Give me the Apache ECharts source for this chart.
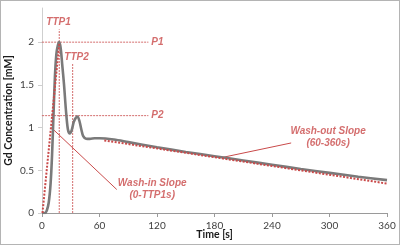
<!DOCTYPE html>
<html>
<head>
<meta charset="utf-8">
<script src="https://cdn.jsdelivr.net/npm/echarts@6/dist/echarts.min.js"></script>
<style>
  body { margin: 0; background: #fff; }
  #chart { width: 398px; height: 243px; border: 1px solid #b4b4b4; }
</style>
</head>
<body>
<div id="chart"></div>
<script>
// concentration curve
const timeS = [0, 3, 5, 7, 9, 10.5, 12, 13.5, 15, 16.5, 18, 19.5, 21, 23, 25, 27, 29, 31, 33, 35, 37, 39, 41, 43, 46, 50, 55, 60, 75, 90, 120, 150, 180, 210, 240, 270, 300, 330, 360];
const concMM = [0, 0, 0.03, 0.12, 0.35, 0.68, 1.15, 1.6, 1.86, 1.96, 2.0, 1.93, 1.75, 1.5, 1.2, 0.98, 0.93, 0.97, 1.06, 1.11, 1.13, 1.08, 0.98, 0.9, 0.87, 0.868, 0.875, 0.875, 0.86, 0.83, 0.77, 0.715, 0.665, 0.615, 0.565, 0.515, 0.47, 0.425, 0.385];

// fitted slopes
const washInT = [0.5, 18];
const washInV = [0, 1.98];
const washOutT = [65, 360];
const washOutV = [0.85, 0.345];

// peak guides
const ttp = [18, 32];
const ttpTop = [2.15, 1.75];
const peaks = [2.0, 1.14];
const peakGuideEnd = 111;

// leader lines [t0, v0, t1, v1]
const leaders = [
  [9.7, 1.0, 78, 0.275],
  [188, 0.65, 260, 0.82]
];

// annotation anchors [t, v, text]
const notes = [
  [17.3, 2.23, 'TTP1', 'center'],
  [36, 1.82, 'TTP2', 'center'],
  [114, 2.0, 'P1', 'left'],
  [114, 1.14, 'P2', 'left'],
  [115, 0.28, 'Wash-in Slope\n(0-TTP1s)', 'center'],
  [298.5, 0.886, 'Wash-out Slope\n(60-360s)', 'center']
];

const xTicks = [0, 60, 120, 180, 240, 300, 360];

const red = '#c94a4a';
const chart = echarts.init(document.getElementById('chart'));

const series = [];

series.push({
  type: 'line', data: [[-3, peaks[0]], [peakGuideEnd, peaks[0]]], symbol: 'none', clip: false,
  lineStyle: { color: red, width: 1, type: [2, 1], opacity: 0.8 }, silent: true
});
series.push({
  type: 'line', data: [[-3, peaks[1]], [peakGuideEnd, peaks[1]]], symbol: 'none', clip: false,
  lineStyle: { color: red, width: 1, type: [2, 1], opacity: 0.8 }, silent: true
});
ttp.forEach((t, i) => {
  series.push({
    type: 'line', data: [[t, 0], [t, ttpTop[i]]], symbol: 'none',
    lineStyle: { color: red, width: 1, type: [2, 1], opacity: 0.8 }, silent: true
  });
});
leaders.forEach(l => {
  series.push({
    type: 'line', data: [[l[0], l[1]], [l[2], l[3]]], symbol: 'none',
    lineStyle: { color: red, width: 1 }, silent: true
  });
});

series.push({
  name: 'curve', type: 'line', smooth: 0.3, symbol: 'none',
  data: timeS.map((t, i) => [t, concMM[i]]),
  lineStyle: { color: '#7a7a7a', width: 2.6 }, z: 3
});

series.push({
  type: 'line', symbol: 'none', data: washInT.map((t, i) => [t, washInV[i]]),
  lineStyle: { color: red, width: 2, type: [2, 1.5] }, z: 4
});
series.push({
  type: 'line', symbol: 'none', data: washOutT.map((t, i) => [t, washOutV[i]]),
  lineStyle: { color: red, width: 2, type: [2, 1.5] }, z: 4
});

series.push({
  type: 'scatter', symbolSize: 0, z: 5,
  data: notes.map(n => ({
    value: [n[0], n[1]],
    label: {
      show: true, position: 'inside', formatter: n[2], align: n[3],
      color: red, fontSize: 10, fontStyle: 'italic', fontWeight: 'bold',
      fontFamily: 'Liberation Sans', lineHeight: 12
    }
  }))
});

chart.setOption({
  animation: false,
  grid: { left: 41, right: 12, top: 7, bottom: 31, containLabel: false, outerBoundsMode: 'none' },
  xAxis: {
    type: 'value', min: 0, max: 360, interval: 60,
    name: 'Time [s]', nameLocation: 'middle', nameGap: 16, nameMoveOverlap: false,
    nameTextStyle: { fontFamily: 'Lato', fontWeight: 'bold', fontSize: 10.5, color: '#1a1a1a' },
    axisLine: { lineStyle: { color: '#9a9a9a' } },
    axisTick: { show: true, length: 4, lineStyle: { color: '#9a9a9a' } },
    axisLabel: { fontFamily: 'Lato', fontSize: 10, color: '#404040', margin: 8,
      formatter: v => xTicks.includes(v) ? String(v) : '' },
    splitLine: { show: false }
  },
  yAxis: {
    type: 'value', min: 0, max: 2.4, interval: 0.5,
    name: 'Gd Concentration [mM]', nameLocation: 'middle', nameGap: 28, nameMoveOverlap: false,
    nameTextStyle: { fontFamily: 'Lato', fontWeight: 'bold', fontSize: 10.5, color: '#1a1a1a' },
    axisLine: { show: true, lineStyle: { color: '#cfcfcf' } },
    axisTick: { show: true, length: 4, lineStyle: { color: '#cfcfcf' } },
    axisLabel: { fontFamily: 'Lato', fontSize: 10, color: '#404040', margin: 8, showMaxLabel: false },
    splitLine: { show: false }
  },
  series: series
});
</script>
</body>
</html>
